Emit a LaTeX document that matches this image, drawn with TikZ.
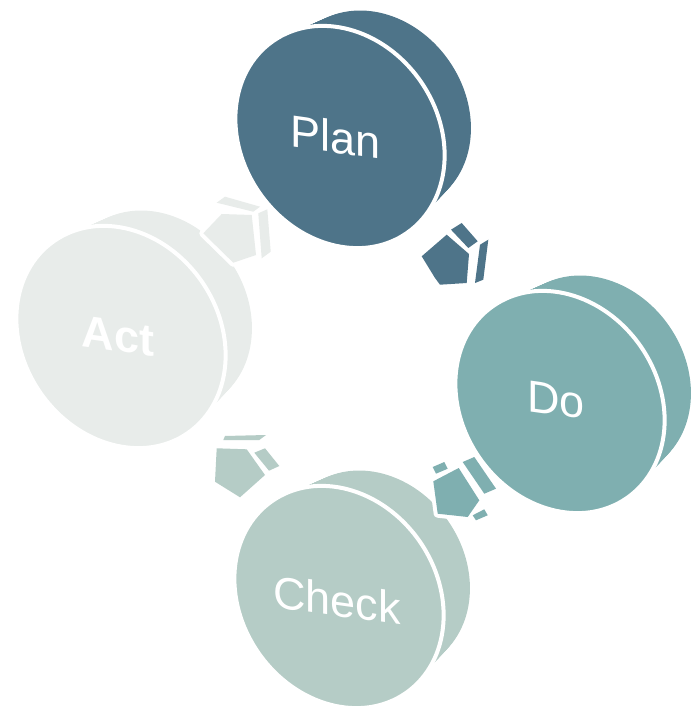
\documentclass[tikz,border=0pt]{standalone}
\usepackage{fontspec}
\setmainfont{Liberation Sans}
\definecolor{plancolor}{RGB}{78,116,137}
\definecolor{docolor}{RGB}{127,175,176}
\definecolor{checkcolor}{RGB}{181,204,198}
\definecolor{actcolor}{RGB}{232,236,234}
\tikzset{phase/.style = {text=white, inner sep=0, yslant=-0.14,
                         font=\fontsize{45}{50}\selectfont}}
\tikzset{halo/.style = {fill=white, draw=white, line width=8pt, line join=round}}

\begin{document}
\begin{tikzpicture}[x=1pt, y=-1pt]
      \useasboundingbox (0,0) rectangle (696,708);

      \foreach \cx/\cy/\col in {340/137/plancolor, 560/402/docolor,
                                339/597/checkcolor, 121/337/actcolor} {
        \foreach \t in {0,0.05,...,1}
          \fill [\col, shift={(38*\t,-27*\t)}, rotate around={35:(\cx,\cy)}]
            (\cx,\cy) ellipse [x radius={96*(1-0.08*\t)}, y radius={115*(1-0.08*\t)}];
        \filldraw [fill=\col, draw=white, line width=4pt, rotate around={35:(\cx,\cy)}]
          (\cx,\cy) ellipse [x radius=98, y radius=117];
      }

      \foreach \sty in {halo, plancolor}
        \fill [\sty] (421.7,256.3) -- (446.7,234.7) -- (469,254) -- (466.7,283) -- (440,284.7) -- (435,278) -- cycle
                     (451,229.7) -- (461.7,223) -- (477.7,241.3) -- (468.3,248) -- cycle
                     (480,244.7) -- (488.3,239.7) -- (483.3,279.7) -- (475,283) -- cycle;

      \foreach \sty in {halo, docolor}
        \fill [\sty] (433.3,481.3) -- (458.7,468) -- (479.3,500.3) -- (467.7,517) -- (437.7,513.7) -- cycle
                     (432.7,467) -- (444.3,462) -- (447.7,468.7) -- (436,473.7) -- cycle
                     (462.7,462) -- (474.3,457) -- (496,488.7) -- (484.3,493.7) -- cycle
                     (472.7,515.3) -- (484.3,509.3) -- (487.7,515.3) -- (476,520.3) -- cycle;

      \foreach \sty in {halo, checkcolor}
        \fill [\sty] (216.7,448.3) -- (246.7,449.3) -- (265,475) -- (240,497.3) -- (215,481.7) -- cycle
                     (225,436) -- (266,435) -- (259.3,440) -- (223.3,440) -- cycle
                     (254.3,452.7) -- (265,448.3) -- (279.3,466) -- (269,470.7) -- cycle;

      \foreach \sty in {halo, actcolor}
        \fill [\sty] (203.3,233.3) -- (221.7,214) -- (251.7,215) -- (256,255) -- (233.3,262.7) -- cycle
                     (216.7,202.7) -- (225,196.7) -- (260,206.7) -- (253.3,211.7) -- cycle
                     (258.3,213.3) -- (267.3,209.3) -- (270.7,251.7) -- (261.7,258.3) -- cycle;

      \node [phase] (plan) at (336,137) {Plan};
      \node [phase] (do) at (556,400) {Do};
      \node [phase] (check) at (337,600) {Check};
      \node [phase, font=\fontsize{45}{50}\selectfont\bfseries] (act) at (118,336) {Act};
    \end{tikzpicture}
\end{document}
